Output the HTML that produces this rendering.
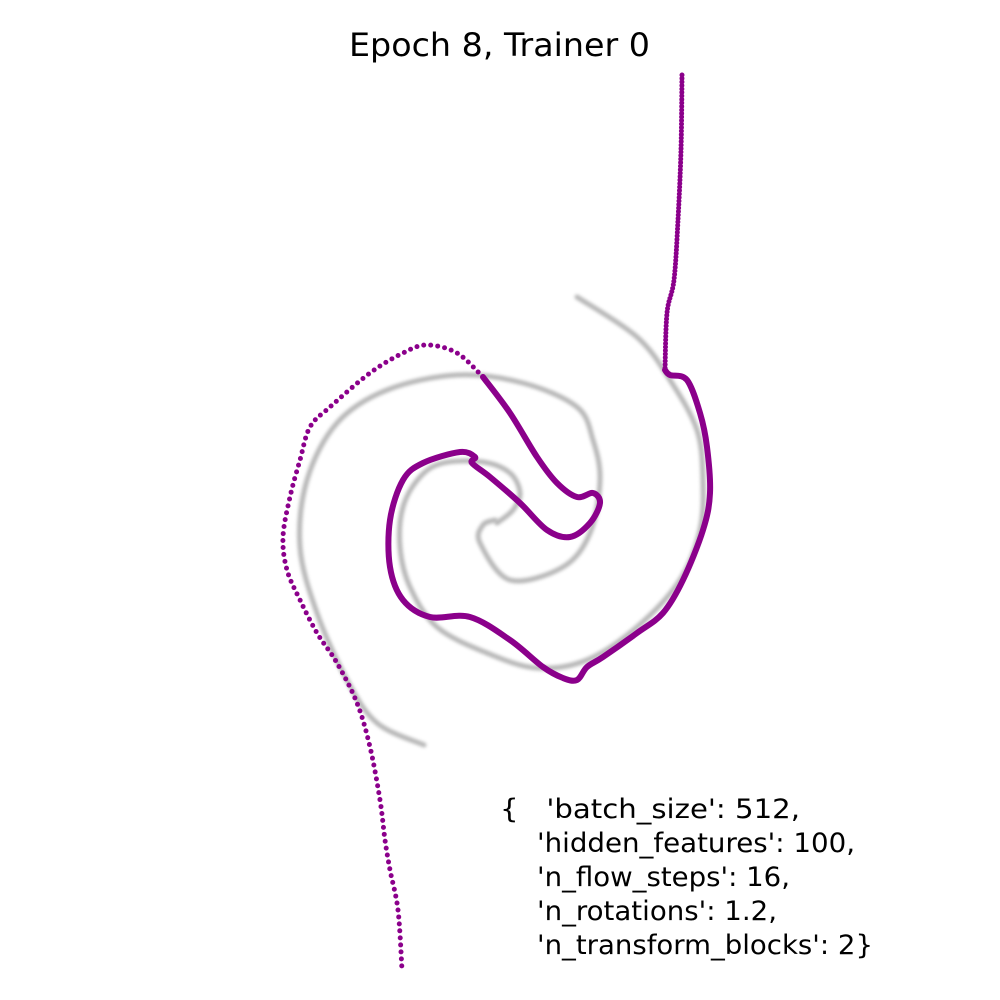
<!DOCTYPE html>
<html><head><meta charset="utf-8"><style>
html,body{margin:0;padding:0;background:#fff;}
svg{display:block;}
text{font-family:"DejaVu Sans","Liberation Sans",sans-serif;fill:#000;}
</style></head><body>
<svg id="chart" width="1000" height="1000" viewBox="0 0 1000 1000">
<defs><filter id="blur" x="-10%" y="-10%" width="120%" height="120%"><feGaussianBlur stdDeviation="1.5"/></filter></defs>
<text x="349" y="56" font-size="32" textLength="301" lengthAdjust="spacingAndGlyphs">Epoch 8, Trainer 0</text>
<g id="target"></g>
<g id="samples"></g>
<g font-size="27">
<text x="500" y="818" xml:space="preserve" textLength="300" lengthAdjust="spacingAndGlyphs">{   'batch_size': 512,</text>
<text x="537" y="852" textLength="318" lengthAdjust="spacingAndGlyphs">'hidden_features': 100,</text>
<text x="537" y="886" textLength="253" lengthAdjust="spacingAndGlyphs">'n_flow_steps': 16,</text>
<text x="537" y="920" textLength="240" lengthAdjust="spacingAndGlyphs">'n_rotations': 1.2,</text>
<text x="537" y="954" textLength="336" lengthAdjust="spacingAndGlyphs">'n_transform_blocks': 2}</text>
</g>
</svg>
<script>
const armAX=[0.77,1.37,1.70,1.97,2.03,2.00,1.80,1.37,0.87,0.37,-0.13,-0.63,-0.90,-1.00,-0.97,-0.80,-0.57,-0.17,0.10,0.20,0.13,-0.03];
const armAY=[2.03,1.63,1.20,0.70,0.20,-0.30,-0.80,-1.27,-1.60,-1.68,-1.53,-1.27,-0.87,-0.47,-0.07,0.23,0.37,0.38,0.27,0.07,-0.10,-0.23];
const armBX=[-0.76,-1.23,-1.53,-1.83,-2.00,-1.93,-1.63,-1.13,-0.43,0.23,0.77,0.93,1.00,0.90,0.63,0.10,-0.20,-0.17,-0.05];
const armBY=[-2.45,-2.23,-1.80,-1.13,-0.47,0.20,0.77,1.10,1.25,1.17,0.93,0.60,0.20,-0.33,-0.67,-0.80,-0.43,-0.25,-0.20];
const tailTopX=[1.82,1.81,1.78,1.74,1.67,1.65];
const tailTopY=[4.25,3.50,2.80,2.20,1.87,1.30];
const loopX=[1.65,1.70,1.87,2.00,2.07,2.10,2.03,1.83,1.63,1.37,1.03,0.87,0.77,0.63,0.43,0.10,-0.30,-0.70,-0.97,-1.10,-1.10,-0.97,-0.77,-0.40,-0.25,-0.28,-0.10,0.20,0.47,0.70,0.90,1.00,0.93,0.77,0.57,0.37,0.10,-0.17];
const loopY=[1.30,1.25,1.20,0.87,0.53,0.07,-0.30,-0.80,-1.13,-1.33,-1.57,-1.67,-1.80,-1.78,-1.67,-1.40,-1.17,-1.17,-1.00,-0.67,-0.20,0.20,0.37,0.48,0.43,0.37,0.23,-0.03,-0.30,-0.37,-0.23,-0.03,0.07,0.03,0.17,0.43,0.87,1.23];
const tailLeftX=[-0.17,-0.43,-0.73,-0.97,-1.30,-1.70,-1.90,-2.00,-2.10,-2.17,-2.13,-2.00,-1.83,-1.63,-1.43,-1.30,-1.20,-1.15,-1.10,-1.02,-0.98];
const tailLeftY=[1.23,1.47,1.55,1.47,1.27,0.93,0.73,0.40,0.03,-0.37,-0.70,-1.00,-1.33,-1.63,-2.03,-2.47,-3.00,-3.40,-3.70,-4.10,-4.70];

const sx=v=>500+v*100, sy=v=>500-v*100;
const NS='http://www.w3.org/2000/svg';
function pathD(xs,ys){
  const p=xs.map((x,i)=>[sx(x),sy(ys[i])]);
  let d='M'+p[0][0]+','+p[0][1];
  for(let i=0;i<p.length-1;i++){
    const p0=p[Math.max(0,i-1)],p1=p[i],p2=p[i+1],p3=p[Math.min(p.length-1,i+2)];
    const c1=[p1[0]+(p2[0]-p0[0])/6,p1[1]+(p2[1]-p0[1])/6];
    const c2=[p2[0]-(p3[0]-p1[0])/6,p2[1]-(p3[1]-p1[1])/6];
    d+=' C'+c1+' '+c2+' '+p2;
  }
  return d;
}
function add(g,xs,ys,attrs){
  const el=document.createElementNS(NS,'path');
  el.setAttribute('d',pathD(xs,ys));
  el.setAttribute('fill','none');
  for(const k in attrs) el.setAttribute(k,attrs[k]);
  g.appendChild(el);
  return el;
}
const tg=document.getElementById('target'), sg=document.getElementById('samples');
const a=add(tg,armAX,armAY,{stroke:'#a0a0a0','stroke-width':5,'stroke-linecap':'round',filter:'url(#blur)',opacity:0.75});


const b=add(tg,armBX,armBY,{stroke:'#a0a0a0','stroke-width':5,'stroke-linecap':'round',filter:'url(#blur)',opacity:0.75});


const t=add(sg,tailTopX,tailTopY,{stroke:'#8b008b','stroke-width':5,'stroke-linecap':'round','stroke-dasharray':'0 3.5'});


const l=add(sg,loopX,loopY,{stroke:'#8b008b','stroke-width':6,'stroke-linecap':'round','stroke-linejoin':'round'});


const tl=add(sg,tailLeftX,tailLeftY,{stroke:'#8b008b','stroke-width':5,'stroke-linecap':'round','stroke-dasharray':'0 7'});


</script>
</body></html>
